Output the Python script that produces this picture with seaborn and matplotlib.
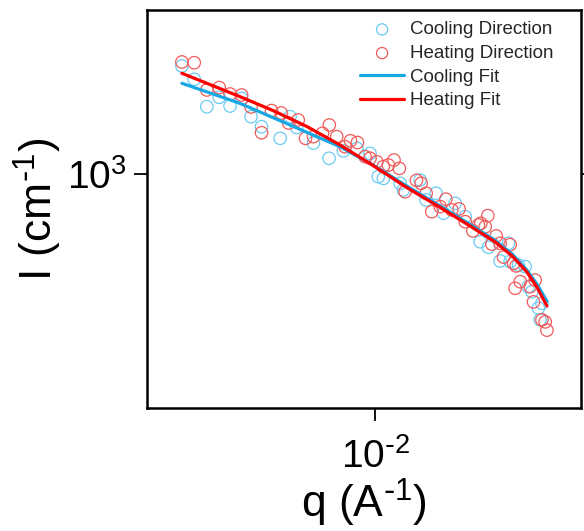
import matplotlib
matplotlib.use("Agg")
import matplotlib.pyplot as plt
import pandas as pd
import seaborn as sns

# SAXS intensity, cooling and heating runs (q in A^-1, I in cm^-1)
q_cool = [0.00411, 0.00435, 0.00461, 0.00488, 0.00513, 0.00541, 0.00565, 0.00593,
          0.00646, 0.00676, 0.00697, 0.00753, 0.00809, 0.00864, 0.00920, 0.00977,
          0.01015, 0.01039, 0.01122, 0.01139, 0.01230, 0.01265, 0.01324, 0.01370,
          0.01445, 0.01514, 0.01622, 0.01685, 0.01778, 0.01848, 0.01862, 0.01935,
          0.01995, 0.02023, 0.02058, 0.02121, 0.02155, 0.02138]
I_cool = [1862, 1725, 1473, 1555, 1479, 1546, 1391, 1313,
          1228, 1391, 1307, 1195, 1095, 1142, 1159, 1126,
          985, 975, 948, 912, 966, 861, 895, 798,
          845, 782, 677, 656, 606, 671, 604, 592,
          587, 523, 508, 462, 475, 432]

q_heat = [0.00411, 0.00435, 0.00461, 0.00488, 0.00513, 0.00541, 0.00565, 0.00593,
          0.00621, 0.00649, 0.00672, 0.00702, 0.00726, 0.00753, 0.00785, 0.00810,
          0.00838, 0.00871, 0.00893, 0.00922, 0.00955, 0.00977, 0.01008, 0.01038,
          0.01063, 0.01091, 0.01118, 0.01148, 0.01210, 0.01236, 0.01265, 0.01298,
          0.01349, 0.01385, 0.01424, 0.01472, 0.01514, 0.01568, 0.01609, 0.01627,
          0.01660, 0.01680, 0.01712, 0.01746, 0.01778, 0.01806, 0.01862, 0.01891,
          0.01905, 0.01914, 0.01950, 0.02042, 0.02073, 0.02089, 0.02155, 0.02188,
          0.02205]
I_heat = [1906, 1898, 1622, 1645, 1585, 1576, 1471, 1268,
          1441, 1421, 1341, 1365, 1228, 1240, 1264, 1326,
          1240, 1170, 1211, 1199, 1105, 1095, 1073, 1043,
          1053, 1084, 1033, 903, 964, 948, 895, 805,
          829, 865, 813, 818, 760, 721, 746, 753,
          738, 787, 668, 700, 671, 620, 666, 598,
          518, 589, 538, 523, 479, 543, 432, 427,
          407]

# Model fits evaluated along q
q_fit_cool = [0.00411, 0.00537, 0.00676, 0.00851, 0.00991, 0.01157, 0.01349,
              0.01549, 0.01738, 0.01879, 0.02011, 0.02105, 0.02205]
I_fit_cool = [1686, 1502, 1326, 1170, 1053, 933, 832,
              748, 682, 631, 575, 531, 481]
q_fit_heat = [0.00411, 0.00537, 0.00625, 0.00730, 0.00851, 0.00991, 0.01157,
              0.01349, 0.01549, 0.01738, 0.01879, 0.02011, 0.02105, 0.02205]
I_fit_heat = [1786, 1561, 1441, 1315, 1182, 1050, 925,
              825, 741, 676, 624, 569, 522, 468]

x_ticks = [1e-2]
x_tick_labels = [r"10$^{\text{-}2}$"]
y_ticks = [1e3]
y_tick_labels = [r"10$^{3}$"]
x_limits = (0.0035, 0.0258)
y_limits = (260, 2570)

cool_pts = pd.DataFrame({"q": q_cool, "I": I_cool})
heat_pts = pd.DataFrame({"q": q_heat, "I": I_heat})
cool_fit = pd.DataFrame({"q": q_fit_cool, "I": I_fit_cool})
heat_fit = pd.DataFrame({"q": q_fit_heat, "I": I_fit_heat})

sns.set_theme(style="white")
plt.rcParams["font.family"] = ["Liberation Sans", "DejaVu Sans"]
plt.rcParams["mathtext.default"] = "regular"
plt.rcParams["axes.unicode_minus"] = False

fig = plt.figure(figsize=(5.84, 5.31), dpi=100)
ax = fig.add_axes([0.2517, 0.2316, 0.7432, 0.7495])
ax.set_xscale("log")
ax.set_yscale("log")

c_cool_pt = "#6ACBF2"
c_heat_pt = "#F25A5A"
c_cool_fit = "#16A8E4"
c_heat_fit = "#FF0000"

sns.scatterplot(data=cool_pts, x="q", y="I", ax=ax, marker="o", s=80,
                color=c_cool_pt, facecolor="none", edgecolor=c_cool_pt,
                linewidth=0.9, label="Cooling Direction", zorder=2)
sns.scatterplot(data=heat_pts, x="q", y="I", ax=ax, marker="o", s=80,
                color=c_heat_pt, facecolor="none", edgecolor=c_heat_pt,
                linewidth=0.9, label="Heating Direction", zorder=3)
sns.lineplot(data=cool_fit, x="q", y="I", ax=ax, color=c_cool_fit,
             linewidth=2.3, label="Cooling Fit", zorder=4)
sns.lineplot(data=heat_fit, x="q", y="I", ax=ax, color=c_heat_fit,
             linewidth=2.3, label="Heating Fit", zorder=5)

ax.set_xlim(*x_limits)
ax.set_ylim(*y_limits)
ax.set_xticks(x_ticks, x_tick_labels)
ax.set_yticks(y_ticks, y_tick_labels)
ax.minorticks_off()

for side in ["left", "right", "top", "bottom"]:
    ax.spines[side].set_visible(True)
    ax.spines[side].set_color("black")
    ax.spines[side].set_linewidth(1.8)

ax.tick_params(axis="both", which="major", direction="out", length=9.5,
               width=1.3, color="black", labelsize=28, labelcolor="black")
ax.tick_params(axis="y", right=True, left=True, pad=5)
ax.tick_params(axis="x", bottom=True, top=False, pad=12)

ax.set_xlabel(r"q (A$^{\text{-}1}$)", fontsize=32, color="black", labelpad=1)
ax.set_ylabel(r"I (cm$^{\text{-}1}$)", fontsize=32, color="black", labelpad=2)

ax.legend(loc="upper right", bbox_to_anchor=(0.936, 0.972), frameon=False,
          fontsize=13.5, borderpad=0, borderaxespad=0, handlelength=2.35,
          handletextpad=0.3, labelspacing=0.35, markerscale=0.9)

fig.savefig("out.png", dpi=100)
